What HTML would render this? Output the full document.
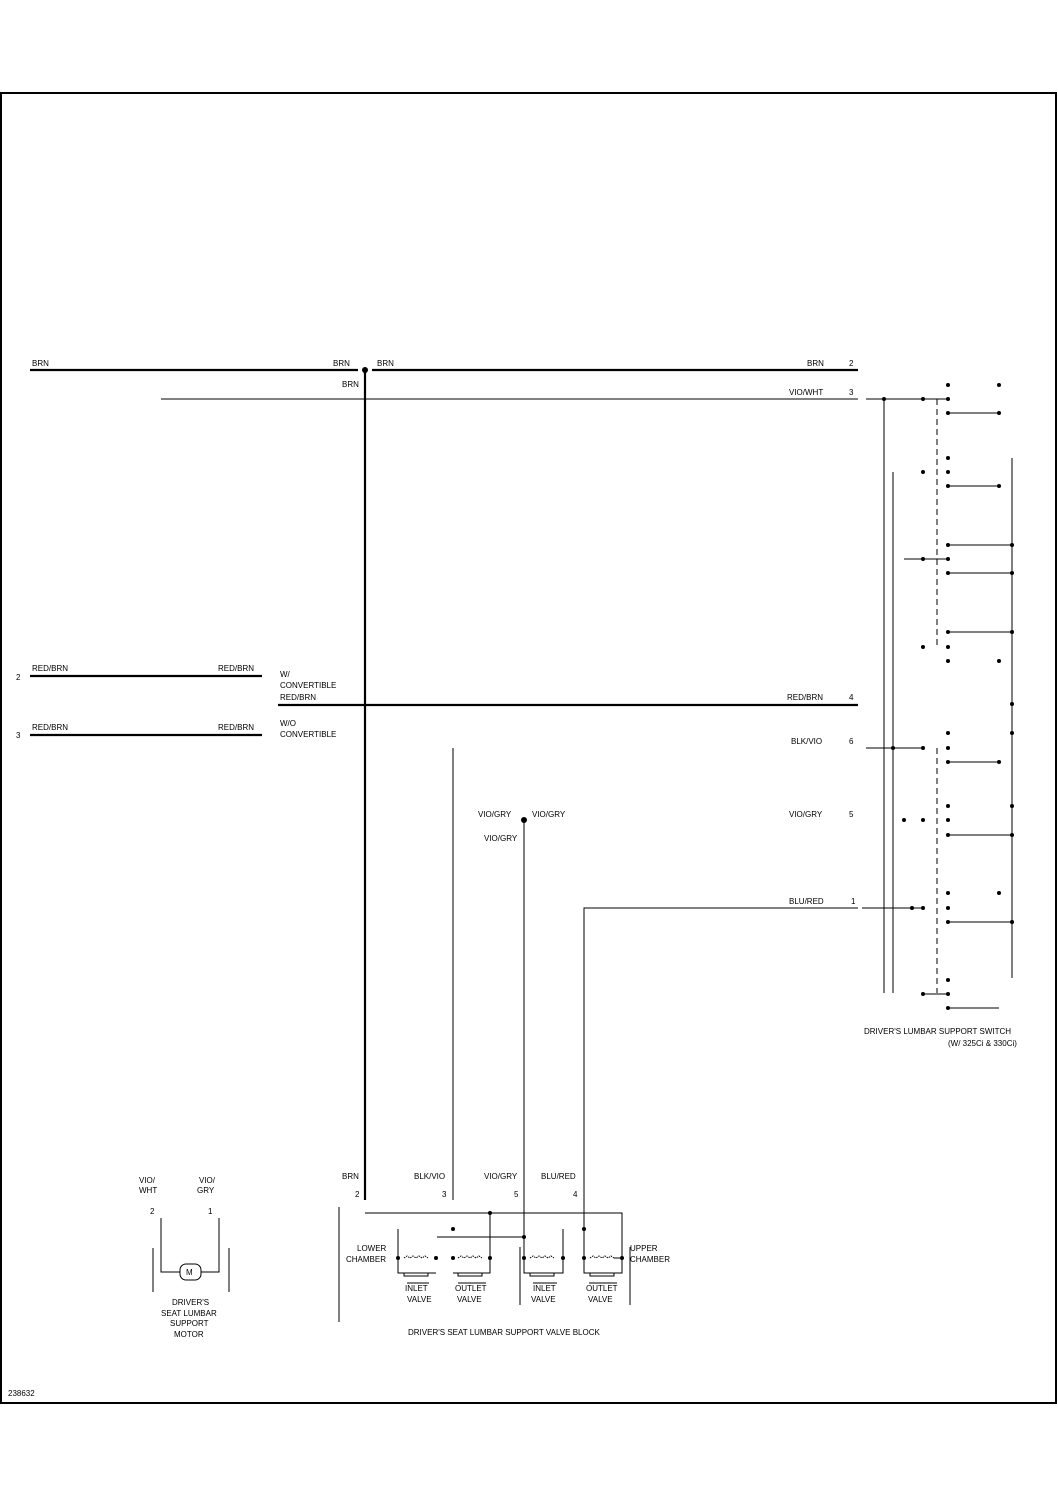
<!DOCTYPE html>
<html><head><meta charset="utf-8"><style>
html,body{margin:0;padding:0;background:#fff;}
svg{display:block;}
text{font-family:"Liberation Sans",sans-serif;font-size:8px;fill:#000;}
</style></head><body>
<svg width="1058" height="1497" viewBox="0 0 1058 1497" xmlns="http://www.w3.org/2000/svg">
<rect x="1" y="93" width="1055" height="1310" fill="none" stroke="#000" stroke-width="2"/>
<g stroke="#000" fill="none">
<line x1="30" y1="370" x2="358" y2="370" stroke-width="2.2"/>
<line x1="372" y1="370" x2="858" y2="370" stroke-width="2.2"/>
<line x1="365" y1="370" x2="365" y2="1200" stroke-width="2.2"/>
<line x1="161" y1="399" x2="858" y2="399" stroke-width="1"/>
<line x1="30" y1="676" x2="262" y2="676" stroke-width="2.2"/>
<line x1="30" y1="735" x2="262" y2="735" stroke-width="2.2"/>
<line x1="278" y1="705" x2="858" y2="705" stroke-width="2.2"/>
<line x1="453" y1="748" x2="453" y2="1200" stroke-width="1"/>
<line x1="524" y1="820" x2="524" y2="1200" stroke-width="1"/>
<polyline points="858,908 584,908 584,1200" stroke-width="1"/>
<line x1="866" y1="399" x2="948" y2="399"/>
<line x1="884" y1="399" x2="884" y2="993"/>
<line x1="893" y1="472" x2="893" y2="993"/>
<line x1="1012" y1="458" x2="1012" y2="978"/>
<line x1="937" y1="399" x2="937" y2="647" stroke-dasharray="6,4"/>
<line x1="937" y1="748" x2="937" y2="993" stroke-dasharray="6,4"/>
<line x1="948" y1="413" x2="999" y2="413"/>
<line x1="948" y1="486" x2="999" y2="486"/>
<line x1="948" y1="545" x2="1012" y2="545"/>
<line x1="904" y1="559" x2="948" y2="559"/>
<line x1="948" y1="573" x2="1012" y2="573"/>
<line x1="948" y1="632" x2="1012" y2="632"/>
<line x1="866" y1="748" x2="923" y2="748"/>
<line x1="948" y1="762" x2="999" y2="762"/>
<line x1="948" y1="835" x2="1012" y2="835"/>
<line x1="862" y1="908" x2="923" y2="908"/>
<line x1="948" y1="922" x2="1012" y2="922"/>
<line x1="923" y1="994" x2="948" y2="994"/>
<line x1="948" y1="1008" x2="999" y2="1008"/>
<line x1="339" y1="1207" x2="339" y2="1322"/>
<polyline points="365,1213 622,1213 622,1258 614,1258"/>
<line x1="490" y1="1213" x2="490" y2="1258"/>
<line x1="437" y1="1237" x2="524" y2="1237"/>
<line x1="524" y1="1200" x2="524" y2="1258"/>
<line x1="584" y1="1200" x2="584" y2="1258"/>
<line x1="520" y1="1247" x2="520" y2="1305"/>
<line x1="630" y1="1247" x2="630" y2="1305"/>
<polyline points="398,1229 398,1273 436,1273"/>
<polyline points="453,1273 490,1273 490,1258"/>
<polyline points="524,1258 524,1273 563,1273 563,1229"/>
<polyline points="584,1258 584,1273 622,1273 622,1258"/>
<path d="M404,1273 v3 h24 v-3 M458,1273 v3 h24 v-3 M530,1273 v3 h24 v-3 M590,1273 v3 h24 v-3"/>
<path d="M404,1258 l3,-2 3,2 3,-2 3,2 3,-2 3,2 3,-2 3,2 M458,1258 l3,-2 3,2 3,-2 3,2 3,-2 3,2 3,-2 3,2 M530,1258 l3,-2 3,2 3,-2 3,2 3,-2 3,2 3,-2 3,2 M590,1258 l3,-2 3,2 3,-2 3,2 3,-2 3,2 3,-2 3,2" stroke-dasharray="1.5,1"/>
<line x1="153" y1="1248" x2="153" y2="1292"/>
<line x1="229" y1="1248" x2="229" y2="1292"/>
<polyline points="161,1218 161,1272 180,1272"/>
<polyline points="219,1218 219,1272 201,1272"/>
<rect x="180" y="1264" width="21" height="16" rx="6"/>
<line x1="407" y1="1283" x2="429" y2="1283"/><line x1="458" y1="1283" x2="486" y2="1283"/>
<line x1="533" y1="1283" x2="557" y2="1283"/><line x1="589" y1="1283" x2="617" y2="1283"/>
</g>
<g fill="#000">
<circle cx="365" cy="370" r="3"/>
<circle cx="524" cy="820" r="3"/>
<circle cx="884" cy="399" r="2"/><circle cx="923" cy="399" r="2"/><circle cx="948" cy="399" r="2"/>
<circle cx="948" cy="385" r="2"/><circle cx="999" cy="385" r="2"/>
<circle cx="948" cy="413" r="2"/><circle cx="999" cy="413" r="2"/>
<circle cx="948" cy="458" r="2"/><circle cx="923" cy="472" r="2"/><circle cx="948" cy="472" r="2"/>
<circle cx="948" cy="486" r="2"/><circle cx="999" cy="486" r="2"/>
<circle cx="948" cy="545" r="2"/><circle cx="1012" cy="545" r="2"/>
<circle cx="923" cy="559" r="2"/><circle cx="948" cy="559" r="2"/>
<circle cx="948" cy="573" r="2"/><circle cx="1012" cy="573" r="2"/>
<circle cx="948" cy="632" r="2"/><circle cx="1012" cy="632" r="2"/>
<circle cx="923" cy="647" r="2"/><circle cx="948" cy="647" r="2"/>
<circle cx="948" cy="661" r="2"/><circle cx="999" cy="661" r="2"/>
<circle cx="1012" cy="704" r="2"/><circle cx="948" cy="733" r="2"/><circle cx="1012" cy="733" r="2"/>
<circle cx="893" cy="748" r="2"/><circle cx="923" cy="748" r="2"/><circle cx="948" cy="748" r="2"/>
<circle cx="948" cy="762" r="2"/><circle cx="999" cy="762" r="2"/>
<circle cx="948" cy="806" r="2"/><circle cx="1012" cy="806" r="2"/>
<circle cx="904" cy="820" r="2"/><circle cx="923" cy="820" r="2"/><circle cx="948" cy="820" r="2"/>
<circle cx="948" cy="835" r="2"/><circle cx="1012" cy="835" r="2"/>
<circle cx="948" cy="893" r="2"/><circle cx="999" cy="893" r="2"/>
<circle cx="912" cy="908" r="2"/><circle cx="923" cy="908" r="2"/><circle cx="948" cy="908" r="2"/>
<circle cx="948" cy="922" r="2"/><circle cx="1012" cy="922" r="2"/>
<circle cx="948" cy="980" r="2"/><circle cx="923" cy="994" r="2"/><circle cx="948" cy="994" r="2"/>
<circle cx="948" cy="1008" r="2"/>
<circle cx="490" cy="1213" r="2"/><circle cx="453" cy="1229" r="2"/><circle cx="524" cy="1237" r="2"/><circle cx="584" cy="1229" r="2"/>
<circle cx="398" cy="1258" r="2"/><circle cx="436" cy="1258" r="2"/><circle cx="453" cy="1258" r="2"/><circle cx="490" cy="1258" r="2"/>
<circle cx="524" cy="1258" r="2"/><circle cx="563" cy="1258" r="2"/><circle cx="584" cy="1258" r="2"/><circle cx="622" cy="1258" r="2"/>
</g>
<text x="32" y="366">BRN</text><text x="333" y="366">BRN</text><text x="377" y="366">BRN</text><text x="807" y="366">BRN</text><text x="849" y="366">2</text>
<text x="342" y="387">BRN</text>
<text x="789" y="395">VIO/WHT</text><text x="849" y="395">3</text>
<text x="16" y="680">2</text><text x="32" y="671">RED/BRN</text><text x="218" y="671">RED/BRN</text>
<text x="280" y="677">W/</text><text x="280" y="688">CONVERTIBLE</text><text x="280" y="700">RED/BRN</text>
<text x="787" y="700">RED/BRN</text><text x="849" y="700">4</text>
<text x="16" y="738">3</text><text x="32" y="730">RED/BRN</text><text x="218" y="730">RED/BRN</text>
<text x="280" y="726">W/O</text><text x="280" y="737">CONVERTIBLE</text>
<text x="791" y="744">BLK/VIO</text><text x="849" y="744">6</text>
<text x="478" y="817">VIO/GRY</text><text x="532" y="817">VIO/GRY</text><text x="484" y="841">VIO/GRY</text>
<text x="789" y="817">VIO/GRY</text><text x="849" y="817">5</text>
<text x="789" y="904">BLU/RED</text><text x="851" y="904">1</text>
<text x="864" y="1034">DRIVER'S LUMBAR SUPPORT SWITCH</text><text x="948" y="1046">(W/ 325Ci &amp; 330Ci)</text>
<text x="342" y="1179">BRN</text><text x="414" y="1179">BLK/VIO</text><text x="484" y="1179">VIO/GRY</text><text x="541" y="1179">BLU/RED</text>
<text x="355" y="1197">2</text><text x="442" y="1197">3</text><text x="514" y="1197">5</text><text x="573" y="1197">4</text>
<text x="357" y="1251">LOWER</text><text x="346" y="1262">CHAMBER</text>
<text x="630" y="1251">UPPER</text><text x="630" y="1262">CHAMBER</text>
<text x="405" y="1291">INLET</text><text x="407" y="1302">VALVE</text>
<text x="455" y="1291">OUTLET</text><text x="457" y="1302">VALVE</text>
<text x="533" y="1291">INLET</text><text x="531" y="1302">VALVE</text>
<text x="586" y="1291">OUTLET</text><text x="588" y="1302">VALVE</text>
<text x="408" y="1335">DRIVER'S SEAT LUMBAR SUPPORT VALVE BLOCK</text>
<text x="139" y="1183">VIO/</text><text x="139" y="1193">WHT</text><text x="199" y="1183">VIO/</text><text x="197" y="1193">GRY</text>
<text x="150" y="1214">2</text><text x="208" y="1214">1</text>
<text x="186" y="1275">M</text>
<text x="172" y="1305">DRIVER'S</text><text x="161" y="1316">SEAT LUMBAR</text><text x="170" y="1326">SUPPORT</text><text x="174" y="1337">MOTOR</text>
<text x="8" y="1396">238632</text>
</svg>
</body></html>
